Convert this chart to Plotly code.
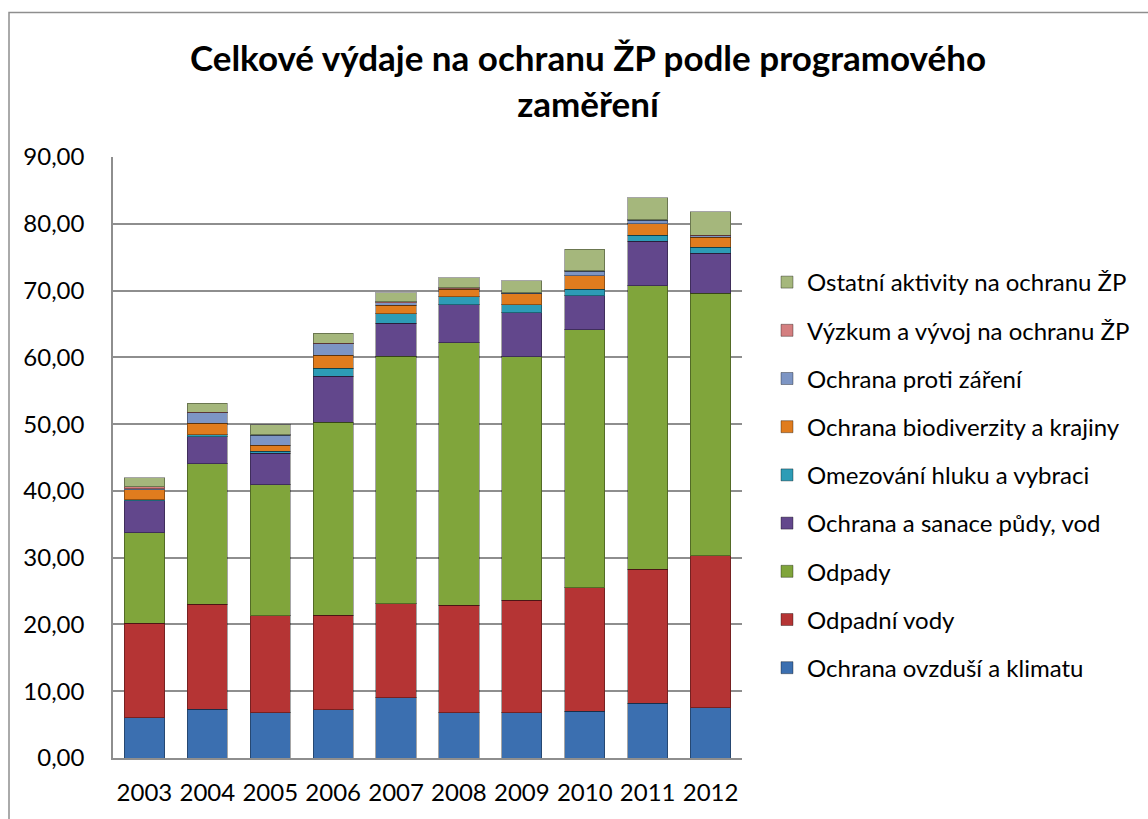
import plotly.graph_objects as go

years = ["2003", "2004", "2005", "2006", "2007", "2008", "2009", "2010", "2011", "2012"]

ovzdusi = [6.0, 7.3, 6.8, 7.2, 9.0, 6.8, 6.8, 7.0, 8.2, 7.5]
odpadni_vody = [14.2, 15.7, 14.5, 14.2, 14.1, 16.1, 16.8, 18.5, 20.1, 22.8]
odpady = [13.5, 21.1, 19.6, 28.9, 37.1, 39.3, 36.5, 38.6, 42.4, 39.3]
puda_vody = [4.8, 4.0, 4.7, 6.9, 4.9, 5.7, 6.6, 5.1, 6.7, 6.0]
hluk = [0.2, 0.3, 0.3, 1.2, 1.4, 1.2, 1.2, 1.0, 0.9, 0.9]
biodiverzita = [1.5, 1.7, 0.9, 1.9, 1.3, 1.1, 1.6, 2.0, 1.7, 1.5]
zareni = [0.1, 1.6, 1.5, 1.7, 0.4, 0.1, 0.1, 0.7, 0.5, 0.2]
vyzkum = [0.3, 0.1, 0.1, 0.1, 0.1, 0.1, 0.1, 0.1, 0.1, 0.1]
ostatni = [1.4, 1.3, 1.5, 1.5, 1.4, 1.5, 1.8, 3.2, 3.3, 3.5]

series = [
    ("Ochrana ovzduší a klimatu", ovzdusi, "#3b6fb0"),
    ("Odpadní vody", odpadni_vody, "#b53434"),
    ("Odpady", odpady, "#80a53b"),
    ("Ochrana a sanace půdy, vod", puda_vody, "#62478c"),
    ("Omezování hluku a vybraci", hluk, "#2d9cb6"),
    ("Ochrana biodiverzity a krajiny", biodiverzita, "#e07c1e"),
    ("Ochrana proti záření", zareni, "#7d95c4"),
    ("Výzkum a vývoj na ochranu ŽP", vyzkum, "#d47f80"),
    ("Ostatní aktivity na ochranu ŽP", ostatni, "#a5b77c"),
]

FONT = "Lato"

fig = go.Figure()
for i, (name, vals, color) in enumerate(series):
    fig.add_trace(go.Bar(
        x=years, y=vals, name=name, legendgroup=str(i), legendrank=1000 - i,
        marker=dict(color=color, line=dict(color="rgba(0,0,0,0.35)", width=1)),
    ))

L, R, T, B = 113, 742, 157, 758
W, H = 1148, 819
pw, ph = R - L, B - T

fig.update_layout(
    width=W, height=H,
    barmode="stack", bargap=0.36,
    separators=", ",
    paper_bgcolor="white", plot_bgcolor="white",
    margin=dict(l=L, r=W - R, t=T, b=H - B, autoexpand=False),
    font=dict(family=FONT, size=24, color="#000000"),
    title=dict(
        text="<b>Celkové výdaje na ochranu ŽP podle programového<br>zaměření</b>",
        x=588 / W, xanchor="center", y=1 - 71 / H, yanchor="middle",
        font=dict(family=FONT, size=35, color="#000000"),
    ),
    legend=dict(
        x=(767 - L) / pw, xanchor="left",
        y=(B - 260) / ph, yanchor="top",
        traceorder="grouped", tracegroupgap=14,
        font=dict(family=FONT, size=24),
        itemwidth=30, bgcolor="rgba(0,0,0,0)",
    ),
    xaxis=dict(
        showgrid=False, showline=True, linecolor="#8e8e8e", linewidth=1.5,
        ticks="", tickfont=dict(size=24), ticklabelstandoff=12,
    ),
    yaxis=dict(
        range=[0, 90], dtick=10, tickformat=".2f",
        showgrid=True, gridcolor="#8e8e8e", gridwidth=1.5,
        showline=True, linecolor="#8e8e8e", linewidth=1.5,
        ticks="", tickfont=dict(size=24), ticklabelstandoff=22,
        zeroline=False,
    ),
    shapes=[dict(
        type="rect", xref="paper", yref="paper",
        x0=(9 - L) / pw, x1=(W + 20 - L) / pw,
        y0=(B - 12.5) / ph, y1=(B - H - 20) / ph,
        line=dict(color="#8e8e8e", width=1.5), fillcolor="rgba(0,0,0,0)", layer="below",
    )],
)

fig.write_html("out.html", config={"displayModeBar": False},
               post_script="document.body.style.margin='0';")
